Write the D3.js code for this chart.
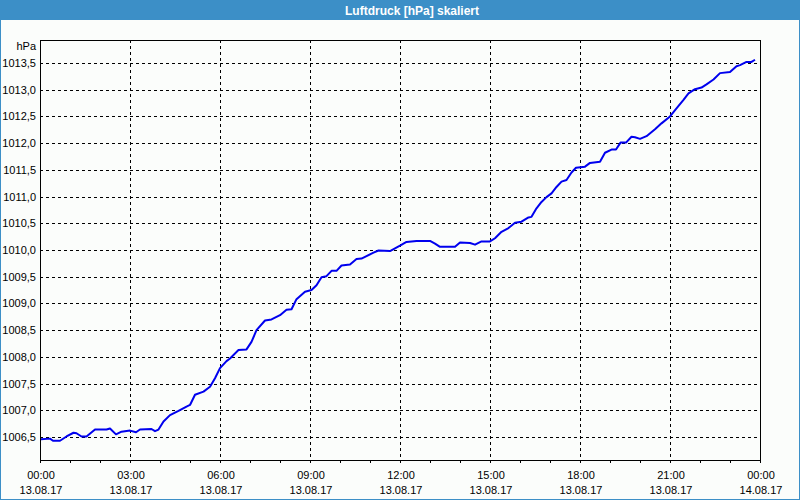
<!DOCTYPE html>
<html>
<head>
<meta charset="utf-8">
<script src="https://cdn.jsdelivr.net/npm/d3@7"></script>
<style>
  body { margin: 0; background: #fff; }
  svg { display: block; font-family: "Liberation Sans", Arial, sans-serif; }
</style>
</head>
<body>
<svg id="chart" width="800" height="500"></svg>
<script>
// minutes after 13.08.17 00:00
const minutes = [2, 20, 26, 40, 53, 67, 73, 83, 93, 110, 133, 140, 152, 163, 180, 192, 200, 223, 230, 237,
    247, 260, 277, 293, 300, 310, 327, 340, 350, 360, 373, 380, 397, 413, 423, 433, 450, 463, 480, 493,
    503, 513, 530, 543, 553, 563, 573, 583, 593, 603, 620, 633, 643, 667, 677, 700, 720, 733, 753, 780,
    790, 800, 830, 840, 860, 870, 883, 900, 910, 923, 937, 950, 963, 977, 983, 993, 1003, 1013, 1023, 1033,
    1043, 1053, 1063, 1072, 1090, 1100, 1120, 1130, 1143, 1152, 1161, 1172, 1183, 1190, 1200, 1213, 1230, 1243, 1260, 1273,
    1287, 1297, 1310, 1323, 1333, 1347, 1360, 1380, 1393, 1400, 1413, 1423, 1430];
const pressure = [1006.46, 1006.47, 1006.43, 1006.43, 1006.51, 1006.58, 1006.57, 1006.51, 1006.51, 1006.64, 1006.64, 1006.66, 1006.55, 1006.60, 1006.62, 1006.59, 1006.64, 1006.65, 1006.61, 1006.64,
    1006.79, 1006.91, 1006.99, 1007.07, 1007.10, 1007.29, 1007.35, 1007.44, 1007.60, 1007.79, 1007.92, 1007.97, 1008.13, 1008.14, 1008.28, 1008.50, 1008.68, 1008.70, 1008.78, 1008.88,
    1008.89, 1009.08, 1009.22, 1009.25, 1009.34, 1009.49, 1009.51, 1009.61, 1009.61, 1009.71, 1009.73, 1009.83, 1009.84, 1009.95, 1009.99, 1009.98, 1010.08, 1010.15, 1010.17, 1010.17,
    1010.12, 1010.06, 1010.06, 1010.14, 1010.13, 1010.10, 1010.16, 1010.16, 1010.22, 1010.34, 1010.41, 1010.51, 1010.53, 1010.61, 1010.62, 1010.78, 1010.90, 1010.99, 1011.06, 1011.18,
    1011.28, 1011.31, 1011.45, 1011.54, 1011.56, 1011.63, 1011.65, 1011.82, 1011.88, 1011.88, 1012.01, 1012.01, 1012.12, 1012.11, 1012.08, 1012.13, 1012.26, 1012.37, 1012.50, 1012.65,
    1012.81, 1012.93, 1013.01, 1013.04, 1013.10, 1013.19, 1013.31, 1013.33, 1013.44, 1013.46, 1013.52, 1013.52, 1013.56];
const yTicks = [1006.5, 1007.0, 1007.5, 1008.0, 1008.5, 1009.0, 1009.5, 1010.0, 1010.5, 1011.0, 1011.5, 1012.0, 1012.5, 1013.0, 1013.5];
const title = "Luftdruck [hPa] skaliert";
const unit = "hPa";

const W = 800, H = 500;
const m = { left: 40, top: 40, right: 760, bottom: 460 };
const start = new Date(2017, 7, 13, 0, 0);
const end = new Date(2017, 7, 14, 0, 0);

const svg = d3.select("#chart");

// frame + title bar
svg.append("rect").attr("x", 0.5).attr("y", 0.5).attr("width", W - 1).attr("height", H - 1)
    .attr("fill", "#fbfdfb").attr("stroke", "#3c8fc7");
svg.append("rect").attr("x", 0).attr("y", 0).attr("width", W).attr("height", 20).attr("fill", "#3c8fc7");
svg.append("text").attr("x", 412).attr("y", 14.5).attr("text-anchor", "middle")
    .attr("fill", "#fff").attr("font-weight", "bold").attr("font-size", "12px").text(title);

let x = d3.scaleTime().domain([start, end]).range([m.left, m.right]);
let y = d3.scaleLinear().domain([1006.07, 1013.93]).range([m.bottom, m.top]);

const hours3 = d3.timeHour.every(3).range(start, d3.timeHour.offset(end, 1));
const hours1 = d3.timeHour.every(1).range(start, d3.timeHour.offset(end, 1));

// grid
let grid = svg.append("g").attr("stroke", "#000").attr("stroke-dasharray", "3,3").attr("shape-rendering", "crispEdges");
grid.selectAll("line.h").data(yTicks).enter().append("line")
    .attr("x1", m.left).attr("x2", m.right)
    .attr("y1", d => Math.round(y(d)) + 0.5).attr("y2", d => Math.round(y(d)) + 0.5);
grid.selectAll("line.v").data(hours3.slice(1, -1)).enter().append("line")
    .attr("y1", m.top).attr("y2", m.bottom)
    .attr("x1", d => Math.round(x(d)) + 0.5).attr("x2", d => Math.round(x(d)) + 0.5);

// plot frame
svg.append("rect").attr("x", m.left + 0.5).attr("y", m.top + 0.5)
    .attr("width", m.right - m.left).attr("height", m.bottom - m.top)
    .attr("fill", "none").attr("stroke", "#000").attr("shape-rendering", "crispEdges");

// x axis ticks + labels
svg.append("g").selectAll("line").data(hours1).enter().append("line")
    .attr("x1", d => Math.round(x(d)) + 0.5).attr("x2", d => Math.round(x(d)) + 0.5)
    .attr("y1", m.bottom).attr("y2", m.bottom + 3)
    .attr("stroke", "#000").attr("shape-rendering", "crispEdges");
let xl = svg.append("g").attr("font-size", "11px").attr("fill", "#000").attr("text-anchor", "middle");
xl.selectAll("text.t").data(hours3).enter().append("text")
    .attr("x", d => x(d) + 1).attr("y", 479).text(d3.timeFormat("%H:%M"));
xl.selectAll("text.d").data(hours3).enter().append("text")
    .attr("x", d => x(d) + 1).attr("y", 494).text(d3.timeFormat("%d.%m.%y"));

// y labels
let yl = svg.append("g").attr("font-size", "11px").attr("fill", "#000").attr("text-anchor", "end");
yl.selectAll("text").data(yTicks).enter().append("text")
    .attr("x", 36).attr("y", d => y(d) + 4)
    .text(d => d3.format(".1f")(d).replace(".", ","));
yl.append("text").attr("x", 36).attr("y", 50).text(unit);

// line
const data = minutes.map((mm, i) => ({ t: d3.timeMinute.offset(start, mm), v: pressure[i] }));
let line = d3.line().x(d => x(d.t)).y(d => y(d.v));
svg.append("path").datum(data).attr("d", line)
    .attr("fill", "none").attr("stroke", "#0000ee").attr("stroke-width", 2).attr("stroke-linejoin", "round");
</script>
</body>
</html>
